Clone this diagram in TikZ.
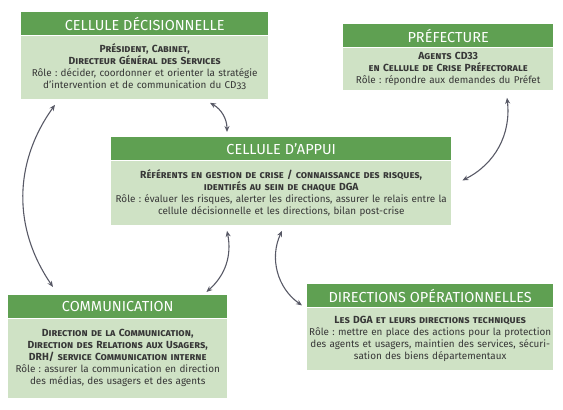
\documentclass[tikz,border=0pt]{standalone}
\usepackage{fontspec}
\setmainfont{Fira Sans}
\usetikzlibrary{positioning,arrows.meta}
\frenchspacing

\definecolor{hdrgreen}{RGB}{95,160,82}
\definecolor{bodygreen}{RGB}{207,226,197}
\definecolor{txtgrey}{RGB}{55,55,55}
\definecolor{arrgrey}{RGB}{88,89,102}

\newcommand{\lead}[1]{{\fontsize{10.3}{12}\selectfont\bfseries\scshape #1}}
\newcommand{\osnum}[1]{{\addfontfeatures{Numbers=OldStyle}#1}}

\tikzset{
  hdr/.style={fill=hdrgreen, text=white, anchor=north west, minimum height=23pt,
    inner sep=0pt, font=\fontsize{14.5}{16}\selectfont},
  body/.style={fill=bodygreen, text=txtgrey, align=center, inner xsep=0pt,
    inner ysep=2pt, font=\fontsize{9.9}{12}\selectfont},
  link/.style={{Stealth[length=6pt,width=5pt]}-{Stealth[length=6pt,width=5pt]},
    draw=arrgrey, line width=1.1pt}
}

\begin{document}
\begin{tikzpicture}[x=1pt,y=-1pt]
\useasboundingbox (0,0) rectangle (563,410);

% Cellule decisionnelle
\node[hdr, minimum width=247pt] (dec) at (21,12) {CELLULE DÉCISIONNELLE};
\node[body, text width=247pt, minimum height=63pt, below=0pt of dec] (decb)
  {\lead{Président, Cabinet,\\Directeur Général des Services}\\
   Rôle : décider, coordonner et orienter la stratégie\\
   d’intervention et de communication du CD\osnum{33}};

% Prefecture
\node[hdr, minimum width=210pt] (pre) at (343,24) {PRÉFECTURE};
\node[body, text width=210pt, minimum height=42pt, below=0pt of pre] (preb)
  {\lead{Agents CD33\\en Cellule de Crise Préfectorale}\\
   Rôle : répondre aux demandes du Préfet};

% Cellule d'appui
\node[hdr, minimum width=340pt] (app) at (111,137) {CELLULE D’APPUI};
\node[body, text width=340pt, minimum height=64pt, below=0pt of app] (appb)
  {\lead{Référents en gestion de crise / connaissance des risques,\\identifés au sein de chaque DGA}\\
   Rôle : évaluer les risques, alerter les directions, assurer le relais entre la\\
   cellule décisionnelle et les directions, bilan post-crise};

% Communication
\node[hdr, minimum width=219pt] (com) at (8,295) {COMMUNICATION};
\node[body, text width=219pt, minimum height=79pt, below=0pt of com] (comb)
  {\lead{Direction de la Communication,\\Direction des Relations aux Usagers,\\DRH/ service Communication interne}\\
   Rôle : assurer la communication en direction\\
   des médias, des usagers et des agents};

% Directions operationnelles
\node[hdr, minimum width=246pt] (ope) at (307,284) {DIRECTIONS OPÉRATIONNELLES};
\node[body, text width=246pt, minimum height=62pt, below=0pt of ope] (opeb)
  {\lead{Les DGA et leurs directions techniques}\\
   Rôle : mettre en place des actions pour la protection\\
   des agents et usagers, maintien des services, sécuri-\\
   sation des biens départementaux};

% Links
\draw[link] ([xshift=34pt,yshift=-6pt]decb.south west) to[bend right=35]
  ([xshift=45pt,yshift=8pt]com.north west);
\draw[link] ([xshift=189pt,yshift=-4pt]decb.south west) to[bend left=30]
  ([xshift=116pt,yshift=5pt]app.north west);
\draw[link] ([xshift=116pt,yshift=-6pt]appb.south west) to[bend left=30]
  ([xshift=-21pt,yshift=3pt]com.north east);
\draw[link] ([xshift=171pt,yshift=-6pt]appb.south west) to[bend right=40]
  ([xshift=-5pt,yshift=2pt]ope.south west);
\draw[link] ([xshift=164pt,yshift=-8pt]preb.south west) to[bend left=35]
  ([xshift=11pt,yshift=-20pt]appb.north east);

\end{tikzpicture}
\end{document}
